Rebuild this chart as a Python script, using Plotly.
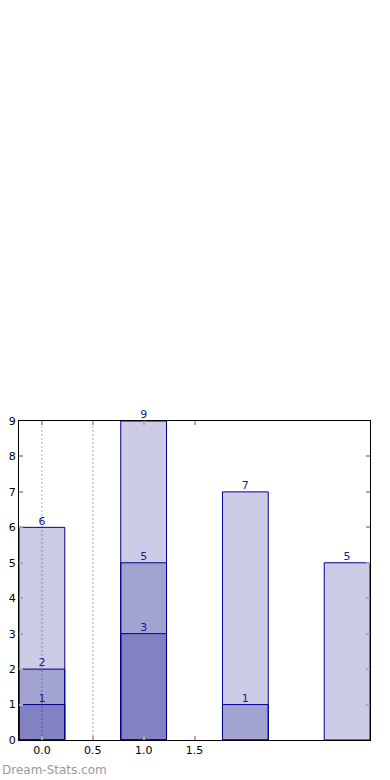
import plotly.graph_objects as go

positions = [0, 1, 2, 3]
series_a = [6, 9, 7, 5]
series_b = [2, 5, 1, None]
series_c = [1, 3, None, None]
x_ticks = [0.0, 0.5, 1.0, 1.5]
x_tick_labels = ["0.0", "0.5", "1.0", "1.5"]
y_ticks = list(range(0, 10))
grid_x = [0.0, 0.5]

fill = "rgba(0,0,128,0.2)"
edge = "#00008b"
label_color = "#1a1a9a"

fig = go.Figure()

for gx in grid_x:
    fig.add_shape(type="line", xref="x", yref="paper", x0=gx, x1=gx, y0=0, y1=1,
                  line=dict(color="#c8c8c8", width=1.5, dash="2px,2px"), layer="below")

for s in [series_a, series_b, series_c]:
    xs = [p for p, v in zip(positions, s) if v is not None]
    ys = [v for v in s if v is not None]
    fig.add_trace(go.Bar(x=xs, y=ys, width=0.45, marker=dict(color=fill, line=dict(color=edge, width=1)),
                         showlegend=False, hoverinfo="skip"))
    fig.add_trace(go.Scatter(x=xs, y=ys, mode="text", text=[str(v) for v in ys],
                             textposition="top center",
                             textfont=dict(family="DejaVu Sans", size=11, color=label_color),
                             showlegend=False, hoverinfo="skip", cliponaxis=False))

fig.update_layout(
    width=390, height=780,
    margin=dict(l=19, r=20, t=421, b=40, autoexpand=False),
    barmode="overlay",
    plot_bgcolor="white", paper_bgcolor="white",
    font=dict(family="DejaVu Sans", size=11, color="black"),
    xaxis=dict(range=[-0.225, 3.225], tickvals=x_ticks, ticktext=x_tick_labels, automargin=False,
               showgrid=False, zeroline=False, showline=True, linecolor="black", linewidth=1,
               mirror="allticks", ticks="inside", ticklen=4, tickcolor="#aaaaaa", tickwidth=1.5,
               tickfont=dict(size=11)),
    yaxis=dict(range=[0, 9], tickvals=y_ticks, showgrid=False, zeroline=False, showline=True,
               automargin=False,
               linecolor="black", linewidth=1, mirror="allticks", ticks="inside", ticklen=4,
               tickcolor="#aaaaaa", tickwidth=1.5, tickfont=dict(size=11)),
    annotations=[dict(text="Dream-Stats.com", xref="paper", yref="paper",
                      x=-19/351, y=-21/319, xanchor="left", yanchor="top", showarrow=False,
                      font=dict(family="DejaVu Sans", size=12, color="#999999"))],
)

fig.write_html("out.html", config={"displayModeBar": False},
               post_script="document.body.style.margin='0';document.body.style.overflow='hidden';")
